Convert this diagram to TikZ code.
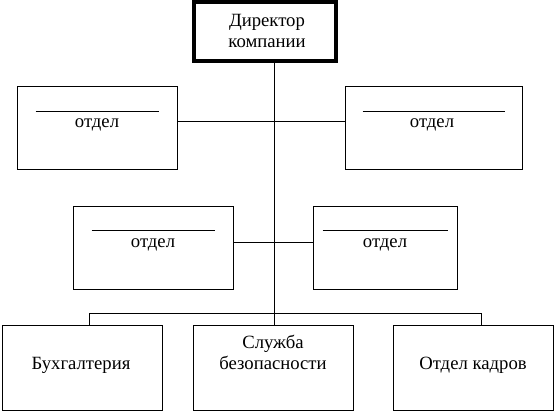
\documentclass[tikz,border=0pt]{standalone}
\usepackage{fontspec}
\setmainfont{Liberation Serif}

\begin{document}
\begin{tikzpicture}[x=1pt, y=-1pt, line width=1pt,
          unit/.style={draw, rectangle, inner sep=0pt, minimum width=160, minimum height=83},
          boss/.style={draw, rectangle, line width=4pt, inner sep=0pt,
            minimum width=142, minimum height=59},
          lbl/.style={anchor=base, align=center, inner sep=0pt,
            font=\fontsize{18.7}{21}\selectfont},
        ]
          \useasboundingbox (0,0) rectangle (554,411);
          % boxes
          \node[boss] (dir) at (265,31.5) {};
          \node[unit] (o1) at (97,128) {};
          \node[unit, minimum width=177] (o2) at (433.5,128) {};
          \node[unit] (o3) at (153,248.5) {};
          \node[unit, minimum width=144] (o4) at (385,248.5) {};
          \node[unit, minimum height=84] (b1) at (82,368) {};
          \node[unit, minimum height=84] (b2) at (273,368) {};
          \node[unit, minimum height=84] (b3) at (473,368) {};
          % texts (base = last line)
          \node[lbl] (dirt) at (267,48) {Директор\\компании};
          \node[lbl] (o1t) at (97,128) {отдел};
          \node[lbl] (o2t) at (432,128) {отдел};
          \node[lbl] (o3t) at (153,248) {отдел};
          \node[lbl] (o4t) at (385,248) {отдел};
          \node[lbl] (b1t) at (81,370) {Бухгалтерия};
          \node[lbl] (b2t) at (273,370) {Служба\\безопасности};
          \node[lbl] (b3t) at (473,370) {Отдел кадров};
          % blank lines for the name
          \foreach \n/\d/\h in {o1/19/26, o2/18/26, o3/19/24, o4/10/24}
            \draw ([shift={(\d,\h)}]\n.north west) -- ([shift={(-\d,\h)}]\n.north east);
          % links
          \coordinate (j1) at (274,122);
          \coordinate (j2) at (274,243);
          \coordinate (l3) at (89,314);
          \coordinate (r3) at (481,314);
          \draw (dir.south -| j1) -- (b2.north -| j1);
          \draw (o1.east |- j1) -- (o2.west |- j1);
          \draw (o3.east |- j2) -- (o4.west |- j2);
          \draw (b1.north -| l3) -- (l3) -- (r3) -- (b3.north -| r3);
        \end{tikzpicture}
\end{document}
